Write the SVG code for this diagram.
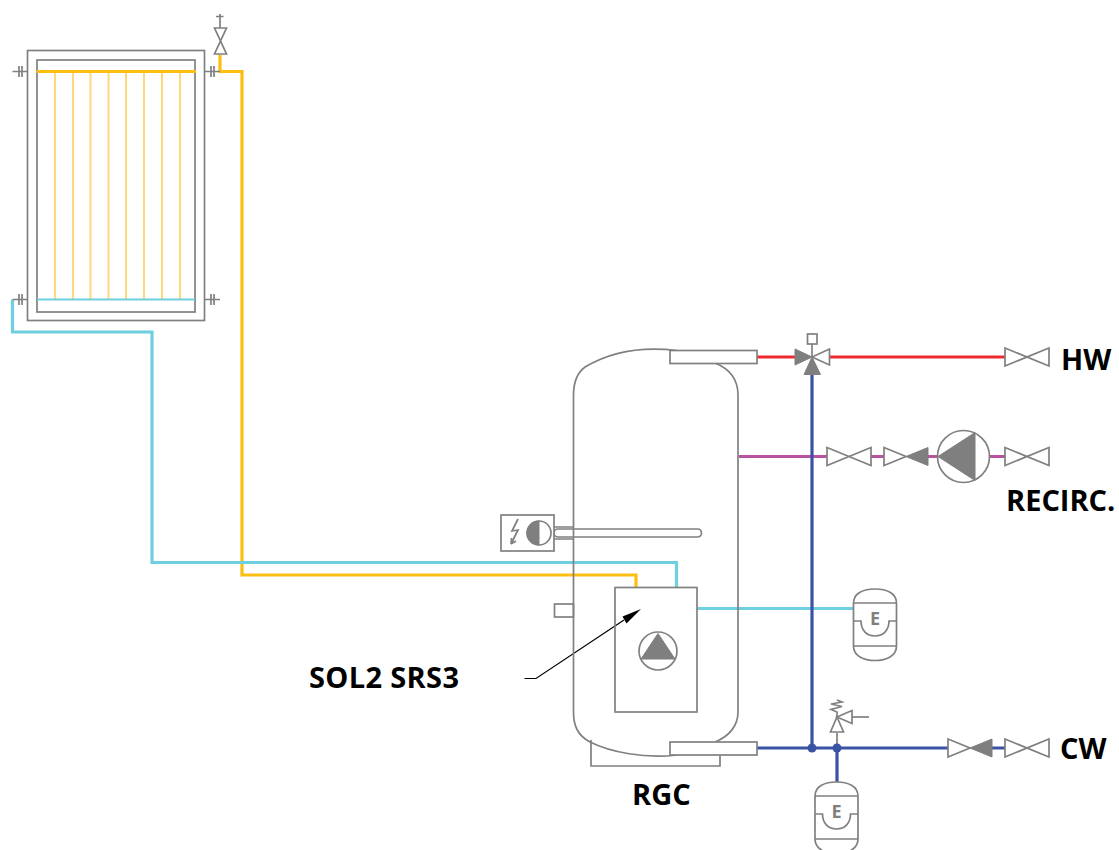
<svg xmlns="http://www.w3.org/2000/svg" width="1119" height="850" viewBox="0 0 1119 850">
<defs>
<style>
.g{fill:none;stroke:#808080;stroke-width:1.7}
.w{fill:#fff;stroke:#808080;stroke-width:1.7}
.f{fill:#7f7f7f;stroke:#7f7f7f;stroke-width:1}
.p{fill:none;stroke-width:3.200}
.or{stroke:#fdbe12}.cy{stroke:#6dcfe0}.re{stroke:#ee2a30}.pu{stroke:#b9529f}.bl{stroke:#3a53a4}
.t{font-family:"Open Sans",sans-serif;font-weight:700;font-size:29px;fill:#000}
.e{font-family:"Open Sans",sans-serif;font-weight:700;font-size:18px;fill:#7f7f7f;text-anchor:middle}
</style>
<g id="bow"><path class="w" d="M0,-9 L44,9 L44,-9 L0,9 Z"/></g>
<g id="halfbow"><path class="w" d="M0,-9 L22,0 L0,9 Z"/><path class="f" d="M44,-9 L22,0 L44,9 Z"/></g>
<g id="vessel"><path class="w" d="M0,14 C0,4 10,0 21.500,0 C33,0 43,4 43,14 L43,57 C43,67 33,71.500 21.500,71.500 C10,71.500 0,67 0,57 Z"/><path class="g" d="M0,14 H43 M0,57 H43 M0,32 H7.500 C7.500,41 13,47 21.500,47 C30,47 35.500,41 35.500,32 H43"/></g>
</defs>

<g id="connectors">
<path class="p or" d="M220,55 V71.500 H242 V575 H636 V588"/>
<path class="p cy" d="M12.500,299.500 V332 H152 V562.500 H676.500 V588"/>
<path class="p cy" d="M697,608.500 H854"/>
<path class="p re" d="M757,357 H796 M829,357 H1006"/>
<path class="p pu" d="M739,456.500 H828 M870,456.500 H885 M927,456.500 H938 M989,456.500 H1006"/>
<path class="p bl" d="M812,372 V748 M757,748 H948 M990,748 H1006 M837,748 V783"/>
<path d="M524.500,678.500 H536 L624,620" fill="none" stroke="#000" stroke-width="1.200"/>
<path d="M641,609 L622.500,616.500 L626.500,623.500 Z" fill="#000"/>
</g>

<g id="solar-collector">
<rect class="g" x="27.500" y="50.500" width="177" height="270"/>
<rect class="g" x="37" y="60" width="158" height="252"/>
<path fill="none" stroke="#fed97a" stroke-width="2" d="M55,72 V299 M73,72 V299 M90.500,72 V299 M108.500,72 V299 M126,72 V299 M144,72 V299 M162,72 V299 M180,72 V299"/>
<path class="p or" d="M36.500,71.500 H196"/>
<path fill="none" stroke="#6dcfe0" stroke-width="2" d="M37,299.500 H195"/>
<path class="g" d="M12.500,71.500 H27 M19,66 V77 M22,66 V77 M205,71.500 H220 M211,66 V77 M214,66 V77 M12.500,299.500 H27 M19,294 V305 M22,294 V305 M205,299.500 H220 M211,294 V305 M214,294 V305"/>
</g>

<g id="air-vent">
<path class="w" d="M214.500,28 H226.500 L214.500,54 H226.500 Z"/>
<path class="g" d="M220,14 V28 M216,16.500 H223.500"/>
</g>

<g id="tank">
<path class="g" d="M591,740 V766 H720 V755"/>
<path class="g" d="M677,350.500 C640,346 610,352 585,367 C577,373 573.500,382 573.500,395 V712 C573.500,725 577,735 590,742 C610,752 645,759 677,755" stroke-width="2"/>
<path class="g" d="M715,363 C730,369 738,380 738,395 V712 C738,725 730,736 715,742" stroke-width="2"/>
<rect class="w" x="670" y="350.500" width="87" height="13"/>
<rect class="w" x="670" y="742" width="87" height="13"/>
<rect class="g" x="554.500" y="604" width="19" height="13"/>
</g>

<g id="heater">
<path class="g" d="M554,527 H573.500 M554,539 H573.500"/>
<rect class="g" x="554" y="529" width="147.500" height="8" rx="4"/>
<rect class="w" x="501" y="515" width="53" height="36"/>
<circle class="g" cx="539" cy="533" r="12"/>
<path class="f" d="M539,521 A12,12 0 0 0 539,545 Z"/>
<path class="g" d="M518,519 L512,531 L518,530 L511,544 M511,544 L511.500,538 M511,544 L516,541"/>
</g>

<g id="solar-station">
<rect class="g" x="615" y="587.500" width="82" height="124.500"/>
<circle class="g" cx="658" cy="651" r="19"/>
<path class="f" d="M658,633.500 L675,659 H641 Z"/>
</g>

<g id="mixing-valve">
<path class="g" d="M812,357 V344"/>
<rect class="w" x="807.500" y="334" width="9.500" height="10"/>
<path class="w" d="M812,357 L829.500,349 V365 Z"/>
<path class="f" d="M812,357 L795,349 V365 Z"/>
<path class="f" d="M812,357 L804,374.500 H820.500 Z"/>
</g>

<g id="hw-valve"><use href="#bow" x="1005" y="357"/></g>
<g id="recirc-valve-1"><use href="#bow" x="827" y="456.500"/></g>
<g id="recirc-check-valve"><use href="#halfbow" x="884" y="456.500"/></g>
<g id="recirc-pump">
<circle class="w" cx="963.500" cy="456.500" r="26"/>
<path class="f" d="M938,456.500 L975,432.500 V480.500 Z"/>
</g>
<g id="recirc-valve-2"><use href="#bow" x="1005" y="456.500"/></g>
<g id="cw-check-valve"><use href="#halfbow" x="948" y="748"/></g>
<g id="cw-valve"><use href="#bow" x="1005" y="748"/></g>

<g id="safety-valve">
<path class="g" d="M837,733 V748"/>
<path class="w" d="M837,717 L843.500,732 H830.500 Z"/>
<path class="w" d="M837,717 L852,710.500 V723.500 Z"/>
<path class="g" d="M852,717 H869"/>
<path class="g" d="M837,717 V712 L831,709.500 L842,706.500 L831,704 L842,702 L837,700"/>
</g>

<g id="junctions">
<circle cx="812" cy="748" r="4.500" fill="#3a53a4"/>
<circle cx="837" cy="748" r="4.500" fill="#3a53a4"/>
</g>

<g id="vessel-solar"><use href="#vessel" x="853.500" y="589"/><text class="e" x="875" y="625">E</text></g>
<g id="vessel-cw"><use href="#vessel" x="815" y="782"/><text class="e" x="836.500" y="818">E</text></g>

<g id="labels">
<text class="t" x="1061" y="370">HW</text>
<text class="t" x="1006" y="511">RECIRC.</text>
<text class="t" x="1060" y="759">CW</text>
<text class="t" x="309" y="688" textLength="150">SOL2 SRS3</text>
<text class="t" x="632" y="805">RGC</text>
</g>
</svg>
